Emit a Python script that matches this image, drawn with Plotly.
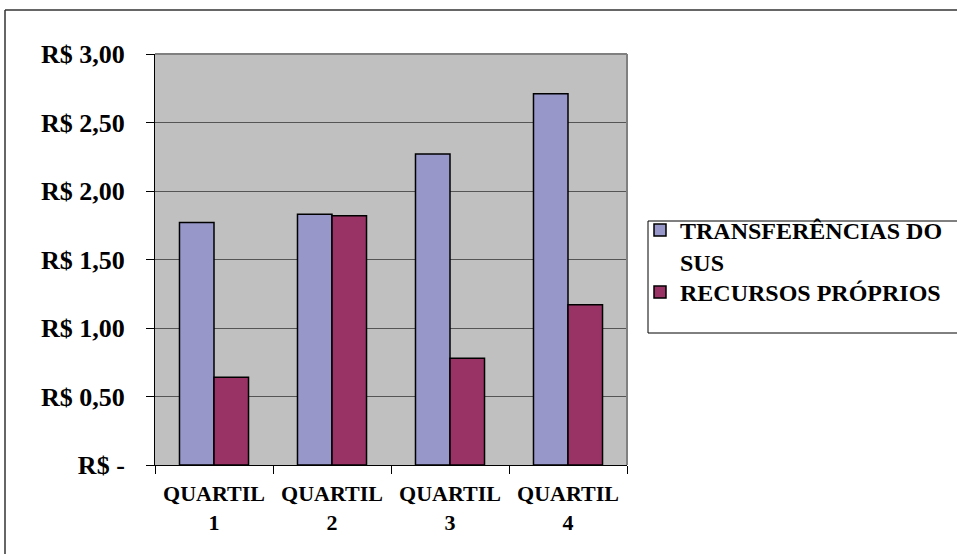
import plotly.graph_objects as go

# Categories and values (R$ per capita)
quartis = ["QUARTIL<br>1", "QUARTIL<br>2", "QUARTIL<br>3", "QUARTIL<br>4"]
transferencias_sus = [1.77, 1.83, 2.27, 2.71]
recursos_proprios = [0.64, 1.82, 0.78, 1.17]

y_ticks = [0, 0.5, 1.0, 1.5, 2.0, 2.5, 3.0]
y_tick_labels = ["R$ -", "R$ 0,50", "R$ 1,00", "R$ 1,50", "R$ 2,00", "R$ 2,50", "R$ 3,00"]

FONT = "Liberation Serif"

fig = go.Figure()
fig.add_trace(go.Bar(
    x=quartis, y=transferencias_sus, name="TRANSFERÊNCIAS DO<br>SUS",
    marker=dict(color="#9797CA", line=dict(color="black", width=1.5)),
    legend="legend",
))
fig.add_trace(go.Bar(
    x=quartis, y=recursos_proprios, name="RECURSOS PRÓPRIOS",
    marker=dict(color="#993366", line=dict(color="black", width=1.5)),
    legend="legend2",
))

W, H = 957, 554
L, R, T, B = 155, 627, 54, 465
pw, ph = R - L, B - T

def px(x):
    return (x - L) / pw

def py(y):
    return (B - y) / ph

def seg(x0, y0, x1, y1, color, width):
    return dict(type="line", xref="paper", yref="paper",
                x0=px(x0), x1=px(x1), y0=py(y0), y1=py(y1),
                line=dict(color=color, width=width))

shapes = [
    # chart outer frame: top and left edges
    seg(5, 10, 957, 10, "#333333", 1.5),
    seg(5, 10, 5, 554, "#333333", 1.5),
    # plot area border, top and right
    dict(type="line", xref="paper", yref="paper", x0=0, x1=1, y0=1, y1=1,
         line=dict(color="#808080", width=2)),
    dict(type="line", xref="paper", yref="paper", x0=1, x1=1, y0=0, y1=1,
         line=dict(color="#808080", width=2)),
    # legend frame
    seg(648, 221, 957, 221, "black", 1),
    seg(648, 333, 957, 333, "black", 1),
    seg(648, 221, 648, 333, "black", 1),
]

legend_font = dict(family=FONT, size=24, color="black", weight="bold")
legend_common = dict(
    x=px(640), xanchor="left", yanchor="top",
    bgcolor="rgba(0,0,0,0)", borderwidth=0,
    font=legend_font, valign="top",
)

fig.update_layout(
    width=W, height=H,
    margin=dict(l=L, r=W - R, t=T, b=H - B, pad=0, autoexpand=False),
    paper_bgcolor="white",
    plot_bgcolor="#C0C0C0",
    barmode="group",
    bargap=0.415,
    bargroupgap=0,
    font=dict(family=FONT, size=22, color="black", weight="bold"),
    shapes=shapes,
    showlegend=True,
    legend=dict(y=py(208), **legend_common),
    legend2=dict(y=py(270), **legend_common),
    xaxis=dict(
        showline=True, linecolor="black", linewidth=1,
        ticks="outside", tickson="boundaries", ticklen=8, tickcolor="black",
        showgrid=False,
        tickfont=dict(family=FONT, size=22, color="black", weight="bold"),
        ticklabelstandoff=9,
    ),
    yaxis=dict(
        range=[0, 3], tickvals=y_ticks, ticktext=y_tick_labels,
        showline=True, linecolor="black", linewidth=1,
        ticks="outside", ticklen=8, tickcolor="black",
        showgrid=True, gridcolor="#555555", gridwidth=1,
        zeroline=False,
        tickfont=dict(family=FONT, size=26, color="black", weight="bold"),
        ticklabelstandoff=16,
    ),
)

fig.write_html("out.html")
